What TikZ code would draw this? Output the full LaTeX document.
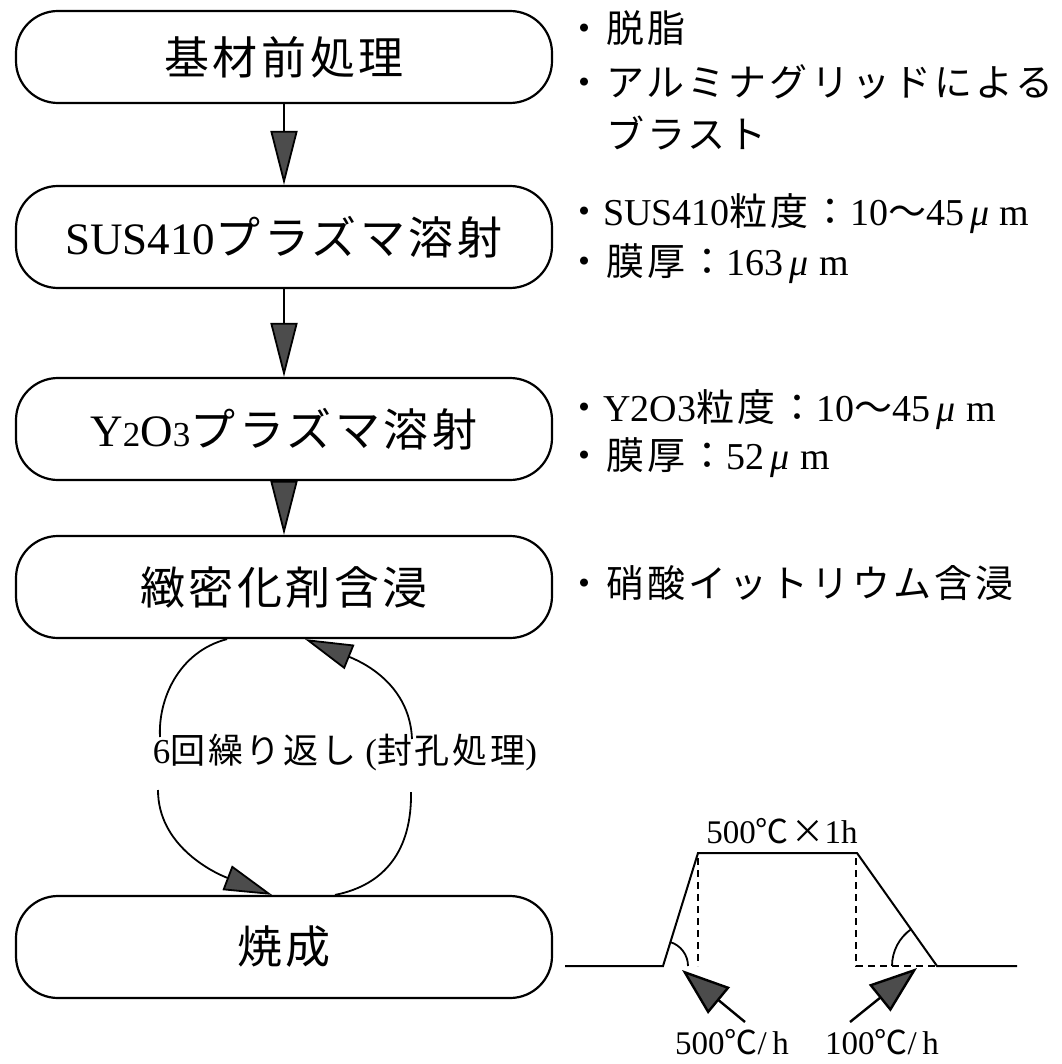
\documentclass[tikz,border=0pt]{standalone}
\usepackage{fontspec}
\setmainfont{Liberation Serif}
\newfontfamily\jp[LetterSpace=8]{Noto Sans CJK JP}
\usetikzlibrary{arrows.meta}
\newcommand\myum{\,\textit{μ}\;m}
\newcommand\smallnum[1]{{\fontsize{35}{38}\selectfont #1}}
\begin{document}
\begin{tikzpicture}[x=1pt,y=-1pt,
  stepbox/.style={draw, line width=2.2pt, rounded corners=42pt, minimum width=536pt,
    inner sep=0pt, font=\fontsize{45}{50}\selectfont},
  rt/.style={anchor=west, inner sep=0pt, text height=30pt, text depth=8pt,
    font=\fontsize{38}{44}\selectfont},
  bigarr/.style={line width=1.8pt, -{Triangle[length=54pt,width=27pt,fill=black!70]}},
  looparr/.style={line width=1.8pt, -{Triangle[length=48pt,width=26pt,fill=black!70]}},
  loopline/.style={line width=1.8pt},
  chartline/.style={line width=2pt},
  chartdash/.style={line width=2pt, dash pattern=on 7pt off 5pt},
  chartarr/.style={line width=2.4pt, -{Triangle[length=48pt,width=34pt,fill=black!70]}},
  clabel/.style={inner sep=0pt, font=\fontsize{33}{38}\selectfont}]
\useasboundingbox (0,0) rectangle (1061,1064);

% process boxes
\node[stepbox, minimum height=92pt] (b1) at (284,57) {\jp 基材前処理};
\node[stepbox, minimum height=102pt] (b2) at (284,237) {SUS410{\jp プラズマ溶射}};
\node[stepbox, minimum height=102pt] (b3) at (284,429) {Y\smallnum{2}O\smallnum{3}{\jp プラズマ溶射}};
\node[stepbox, minimum height=102pt] (b4) at (284,587) {\jp 緻密化剤含浸};
\node[stepbox, minimum height=102pt] (b5) at (284,947) {\jp 焼成};

% straight arrows
\draw[bigarr] (b1) -- (b2);
\draw[bigarr] (b2) -- (b3);
\draw[bigarr] (b3) -- (b4);

% right-hand notes
\node[rt] (r1) at (565,32) {\jp ・脱脂};
\node[rt] (r2) at (565,86) {\jp ・アルミナグリッドによる};
\node[rt] (r3) at (565,138) {\jp 　ブラスト};
\node[rt] (r4) at (565,215) {{\jp ・}SUS410{\jp 粒度：}10{\jp ～}45\myum};
\node[rt] (r5) at (565,265) {{\jp ・膜厚：}163\myum};
\node[rt] (r6) at (565,410) {{\jp ・}Y2O3{\jp 粒度：}10{\jp ～}45\myum};
\node[rt] (r7) at (565,458) {{\jp ・膜厚：}52\myum};
\node[rt] (r8) at (565,586) {\jp ・硝酸イットリウム含浸};

% repeat loop
\node[inner sep=0pt, font=\fontsize{35}{42}\selectfont] (loop) at (345,752)
  {6{\jp 回繰り返し} ({\jp 封孔処理})};
\coordinate (ul) at (160,737);
\coordinate (ur) at (412,739);
\coordinate (ll) at (158,790);
\coordinate (lr) at (411,792);
\draw[loopline] ([xshift=-57pt]b4.south) .. controls (178,652) and (158,700) .. (ul);
\draw[looparr] (ur) .. controls (410,690) and (372,666) .. ([xshift=21pt]b4.south);
\draw[looparr] (ll) .. controls (158,845) and (212,872) .. ([xshift=-12pt]b5.north);
\draw[loopline] (lr) .. controls (412,850) and (385,885) .. ([xshift=51pt]b5.north);

% firing profile
\coordinate (p0) at (565,966);
\coordinate (p1) at (663,966);
\coordinate (p2) at (698,853);
\coordinate (p3) at (857,853);
\coordinate (p4) at (937,966);
\coordinate (p5) at (1017,966);
\draw[chartline] (p0) -- (p1) -- (p2) -- (p3) -- (p4) -- (p5);
\draw[chartdash] (698,858) -- (698,966);
\draw[chartdash] (856,858) -- (856,966) -- (p4);
\draw[line width=1.8pt] (688,966) arc[start angle=0, end angle=-73, radius=25];
\draw[line width=1.8pt] (892,966) arc[start angle=180, end angle=235, radius=45];
\node[clabel] (top) at (782,831) {500{\jp ℃×}1h};
\node[clabel] (lu) at (732,1042) {500{\jp ℃}/\,h};
\node[clabel] (ld) at (882,1042) {100{\jp ℃}/\,h};
\coordinate (tipu) at (682,970);
\coordinate (tipd) at (917,968);
\draw[chartarr] (745,1022) -- (tipu);
\draw[chartarr] (850,1022) -- (tipd);
\end{tikzpicture}
\end{document}
